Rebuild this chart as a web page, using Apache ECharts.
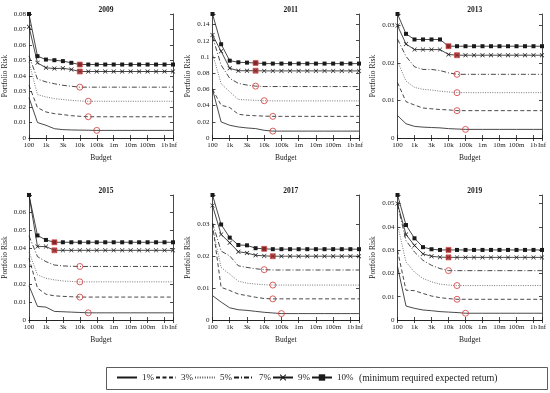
<!DOCTYPE html>
<html><head><meta charset="utf-8">
<script src="https://cdn.jsdelivr.net/npm/echarts@6/dist/echarts.min.js"></script>
<style>html,body{margin:0;padding:0;background:#fff}#c{width:550px;height:393px}</style>
</head><body><div id="c"></div>
<script>
// ---- data ----
const budgets = ['100','500','1k','2k','3k','5k','10k','50k','100k','500k','1m','5m','10m','50m','100m','500m','1b','Inf'];
const tickLabels = ['100','','1k','','3k','','10k','','100k','','1m','','10m','','100m','','1b','Inf'];
const seriesNames = ['1%','3%','5%','7%','9%','10%'];
const years = ['2009','2011','2013','2015','2017','2019'];
const yIntervals = [0.01,0.02,0.01,0.01,0.01,0.01];

const risk2009 = [
  [0.0260,0.0100,0.0082,0.0060,0.0054,0.0052,0.0051,0.0050,0.0049,0.0049,0.0049,0.0049,0.0049,0.0049,0.0049,0.0049,0.0049,0.0049],
  [0.0340,0.0196,0.0168,0.0157,0.0151,0.0144,0.0140,0.0137,0.0137,0.0137,0.0137,0.0137,0.0137,0.0137,0.0137,0.0137,0.0137,0.0137],
  [0.0490,0.0280,0.0265,0.0254,0.0248,0.0243,0.0239,0.0237,0.0237,0.0237,0.0237,0.0237,0.0237,0.0237,0.0237,0.0237,0.0237,0.0237],
  [0.0530,0.0380,0.0362,0.0350,0.0340,0.0334,0.0328,0.0328,0.0328,0.0328,0.0328,0.0328,0.0328,0.0328,0.0328,0.0328,0.0328,0.0328],
  [0.0718,0.0485,0.0453,0.0448,0.0450,0.0442,0.0429,0.0429,0.0429,0.0429,0.0429,0.0429,0.0429,0.0429,0.0429,0.0429,0.0429,0.0429],
  [0.0800,0.0528,0.0506,0.0502,0.0496,0.0485,0.0474,0.0474,0.0474,0.0474,0.0474,0.0474,0.0474,0.0474,0.0474,0.0474,0.0474,0.0474]
];
const risk2011 = [
  [0.0600,0.0198,0.0157,0.0136,0.0124,0.0116,0.0095,0.0085,0.0085,0.0085,0.0085,0.0085,0.0085,0.0085,0.0085,0.0085,0.0085,0.0085],
  [0.0600,0.0405,0.0376,0.0293,0.0280,0.0275,0.0270,0.0267,0.0267,0.0267,0.0267,0.0267,0.0267,0.0267,0.0267,0.0267,0.0267,0.0267],
  [0.1045,0.0670,0.0570,0.0475,0.0470,0.0465,0.0460,0.0458,0.0458,0.0458,0.0458,0.0458,0.0458,0.0458,0.0458,0.0458,0.0458,0.0458],
  [0.1250,0.0900,0.0736,0.0674,0.0653,0.0640,0.0635,0.0635,0.0635,0.0635,0.0635,0.0635,0.0635,0.0635,0.0635,0.0635,0.0635,0.0635],
  [0.1270,0.1070,0.0860,0.0830,0.0830,0.0830,0.0828,0.0828,0.0828,0.0828,0.0828,0.0828,0.0828,0.0828,0.0828,0.0828,0.0828,0.0828],
  [0.1530,0.1157,0.0954,0.0934,0.0930,0.0926,0.0918,0.0918,0.0918,0.0918,0.0918,0.0918,0.0918,0.0918,0.0918,0.0918,0.0918,0.0918]
];
const risk2013 = [
  [0.0060,0.0038,0.0031,0.0029,0.0028,0.0027,0.0025,0.0024,0.0023,0.0023,0.0023,0.0023,0.0023,0.0023,0.0023,0.0023,0.0023,0.0023],
  [0.0148,0.0097,0.0088,0.0080,0.0078,0.0076,0.0075,0.0073,0.0073,0.0073,0.0073,0.0073,0.0073,0.0073,0.0073,0.0073,0.0073,0.0073],
  [0.0205,0.0152,0.0135,0.0130,0.0128,0.0125,0.0123,0.0121,0.0121,0.0121,0.0121,0.0121,0.0121,0.0121,0.0121,0.0121,0.0121,0.0121],
  [0.0264,0.0218,0.0190,0.0183,0.0183,0.0180,0.0174,0.0170,0.0170,0.0170,0.0170,0.0170,0.0170,0.0170,0.0170,0.0170,0.0170,0.0170],
  [0.0300,0.0251,0.0236,0.0236,0.0236,0.0236,0.0223,0.0221,0.0221,0.0221,0.0221,0.0221,0.0221,0.0221,0.0221,0.0221,0.0221,0.0221],
  [0.0331,0.0278,0.0263,0.0263,0.0263,0.0263,0.0245,0.0245,0.0245,0.0245,0.0245,0.0245,0.0245,0.0245,0.0245,0.0245,0.0245,0.0245]
];
const risk2015 = [
  [0.0191,0.0076,0.0072,0.0048,0.0046,0.0044,0.0042,0.0040,0.0040,0.0040,0.0040,0.0040,0.0040,0.0040,0.0040,0.0040,0.0040,0.0040],
  [0.0345,0.0178,0.0144,0.0135,0.0132,0.0130,0.0128,0.0128,0.0128,0.0128,0.0128,0.0128,0.0128,0.0128,0.0128,0.0128,0.0128,0.0128],
  [0.0380,0.0252,0.0233,0.0224,0.0218,0.0215,0.0213,0.0213,0.0213,0.0213,0.0213,0.0213,0.0213,0.0213,0.0213,0.0213,0.0213,0.0213],
  [0.0470,0.0354,0.0326,0.0307,0.0302,0.0300,0.0299,0.0299,0.0299,0.0299,0.0299,0.0299,0.0299,0.0299,0.0299,0.0299,0.0299,0.0299],
  [0.0698,0.0410,0.0410,0.0389,0.0389,0.0389,0.0389,0.0389,0.0389,0.0389,0.0389,0.0389,0.0389,0.0389,0.0389,0.0389,0.0389,0.0389],
  [0.0698,0.0472,0.0447,0.0434,0.0434,0.0434,0.0434,0.0434,0.0434,0.0434,0.0434,0.0434,0.0434,0.0434,0.0434,0.0434,0.0434,0.0434]
];
const risk2017 = [
  [0.0076,0.0056,0.0038,0.0032,0.0030,0.0027,0.0024,0.0022,0.0020,0.0020,0.0020,0.0020,0.0020,0.0020,0.0020,0.0020,0.0020,0.0020],
  [0.0298,0.0102,0.0092,0.0081,0.0076,0.0071,0.0067,0.0066,0.0066,0.0066,0.0066,0.0066,0.0066,0.0066,0.0066,0.0066,0.0066,0.0066],
  [0.0288,0.0164,0.0143,0.0121,0.0115,0.0112,0.0110,0.0109,0.0109,0.0109,0.0109,0.0109,0.0109,0.0109,0.0109,0.0109,0.0109,0.0109],
  [0.0303,0.0215,0.0200,0.0169,0.0164,0.0160,0.0157,0.0156,0.0156,0.0156,0.0156,0.0156,0.0156,0.0156,0.0156,0.0156,0.0156,0.0156],
  [0.0357,0.0267,0.0241,0.0213,0.0209,0.0202,0.0200,0.0199,0.0199,0.0199,0.0199,0.0199,0.0199,0.0199,0.0199,0.0199,0.0199,0.0199],
  [0.0390,0.0298,0.0257,0.0234,0.0233,0.0224,0.0222,0.0221,0.0221,0.0221,0.0221,0.0221,0.0221,0.0221,0.0221,0.0221,0.0221,0.0221]
];
const risk2019 = [
  [0.0230,0.0060,0.0050,0.0043,0.0040,0.0036,0.0034,0.0032,0.0029,0.0029,0.0029,0.0029,0.0029,0.0029,0.0029,0.0029,0.0029,0.0029],
  [0.0299,0.0128,0.0126,0.0114,0.0103,0.0096,0.0092,0.0089,0.0089,0.0089,0.0089,0.0089,0.0089,0.0089,0.0089,0.0089,0.0089,0.0089],
  [0.0410,0.0249,0.0206,0.0178,0.0164,0.0154,0.0150,0.0148,0.0148,0.0148,0.0148,0.0148,0.0148,0.0148,0.0148,0.0148,0.0148,0.0148],
  [0.0497,0.0341,0.0292,0.0256,0.0235,0.0221,0.0212,0.0212,0.0212,0.0212,0.0212,0.0212,0.0212,0.0212,0.0212,0.0212,0.0212,0.0212],
  [0.0500,0.0367,0.0320,0.0284,0.0274,0.0270,0.0269,0.0269,0.0269,0.0269,0.0269,0.0269,0.0269,0.0269,0.0269,0.0269,0.0269,0.0269],
  [0.0537,0.0408,0.0351,0.0313,0.0304,0.0301,0.0301,0.0301,0.0301,0.0301,0.0301,0.0301,0.0301,0.0301,0.0301,0.0301,0.0301,0.0301]
];
// index of the highlighted (red) point for each series: 1%,3%,5%,7%,9%,10%
const hl2009 = [8,7,7,6,6,6];
const hl2011 = [7,7,6,5,5,5];
const hl2013 = [8,7,7,7,7,6];
const hl2015 = [7,6,6,6,3,3];
const hl2017 = [8,7,7,6,7,6];
const hl2019 = [8,7,7,6,6,6];

const allRisk = [risk2009,risk2011,risk2013,risk2015,risk2017,risk2019];
const allHl = [hl2009,hl2011,hl2013,hl2015,hl2017,hl2019];

// ---- layout / style ----
const FONT = '"Liberation Serif","DejaVu Serif",serif';
const INK = '#1a1a1a';
const RED = '#d23a3a';
const colLeft = [29, 212.5, 397.5];
const colWidth = [144, 146.5, 144.5];
const rowTop = [14, 195];
const rowHeight = [124, 125];
const crossPath = 'path://M0,1L1,0L5,4L9,0L10,1L6,5L10,9L9,10L5,6L1,10L0,9L4,5Z';
const lineStyles = [
  {type:'solid', color:INK, symbol:'none'},
  {type:[4,2.5], color:INK, symbol:'none'},
  {type:[1,1.4], color:'#555', symbol:'none'},
  {type:[5,2,1,2], color:INK, symbol:'none'},
  {type:'solid', color:INK, symbol:crossPath, size:4.5},
  {type:'solid', color:INK, symbol:'rect', size:4}
];

const grids=[], xAxes=[], yAxes=[], series=[], titles=[];
const tickFn = (i) => tickLabels[i] !== '';

allRisk.forEach((risk, k) => {
  const c = k % 3, r = Math.floor(k / 3);
  grids.push({left: colLeft[c], top: rowTop[r], width: colWidth[c], height: rowHeight[r], containLabel:false});
  const ymax = Math.max(...risk.flat());
  const iv = yIntervals[k];
  const axisLine = {show:true, lineStyle:{color:INK, width:0.8}};
  xAxes.push({
    type:'category', gridIndex:k, data:budgets, boundaryGap:false, position:'bottom',
    axisLine, axisTick:{inside:true, length:3, interval:tickFn, lineStyle:{color:INK,width:0.8}},
    axisLabel:{interval:0, margin:4, fontSize:7, color:INK, fontFamily:FONT,
      formatter:(v,i)=>tickLabels[i]},
    name:'Budget', nameLocation:'middle', nameGap:16,
    nameTextStyle:{fontSize:7.5, color:INK, fontFamily:FONT},
    splitLine:{show:false}
  });
  xAxes.push({
    type:'category', gridIndex:k, data:budgets, boundaryGap:false, position:'top',
    axisLine, axisTick:{inside:true, length:3, interval:tickFn, lineStyle:{color:INK,width:0.8}},
    axisLabel:{show:false}, splitLine:{show:false}
  });
  const fmt = (v) => Math.abs(v/iv - Math.round(v/iv)) < 1e-6 ? String(+v.toFixed(3)) : '';
  yAxes.push({
    type:'value', gridIndex:k, min:0, max:ymax, interval:iv, position:'left',
    axisLine, axisTick:{show:true, inside:true, length:3, lineStyle:{color:INK,width:0.8}},
    axisLabel:{margin:3, fontSize:7, color:INK, fontFamily:FONT, formatter:fmt, showMaxLabel:true},
    name:'Portfolio Risk', nameLocation:'middle', nameGap:20, nameRotate:90,
    nameTextStyle:{fontSize:7.5, color:INK, fontFamily:FONT},
    splitLine:{show:false}
  });
  yAxes.push({
    type:'value', gridIndex:k, min:0, max:ymax, interval:iv, position:'right',
    axisLine, axisTick:{show:true, inside:true, length:3, lineStyle:{color:INK,width:0.8}},
    axisLabel:{show:false}, splitLine:{show:false}
  });
  titles.push({text:years[k], left: colLeft[c] + colWidth[c]/2, top: rowTop[r] - 13, textAlign:'center',
    textStyle:{fontSize:7.5, fontWeight:'bold', color:INK, fontFamily:FONT}});

  risk.forEach((vals, s) => {
    const st = lineStyles[s];
    series.push({
      name: seriesNames[s], type:'line', xAxisIndex:2*k, yAxisIndex:2*k,
      data: vals, symbol: st.symbol, symbolSize: st.size || 4, showSymbol: st.symbol !== 'none',
      clip:false, silent:true, animation:false,
      itemStyle:{color:INK, borderWidth:0},
      lineStyle:{color:st.color, width:0.8, type:st.type}, z:2
    });
  });
  // highlighted points
  const hl = allHl[k];
  const circleData = [], boxData = [];
  hl.forEach((idx, s) => {
    if (s < 4) circleData.push([idx, risk[s][idx]]);
    else boxData.push([idx, risk[s][idx]]);
  });
  series.push({type:'scatter', xAxisIndex:2*k, yAxisIndex:2*k, data:circleData, symbol:'circle', symbolSize:6,
    itemStyle:{color:'rgba(0,0,0,0)', borderColor:RED, borderWidth:1}, z:5, silent:true, animation:false, clip:false});
  series.push({type:'scatter', xAxisIndex:2*k, yAxisIndex:2*k, data:boxData, symbol:'rect', symbolSize:5,
    itemStyle:{color:'#9c2b2b', borderColor:RED, borderWidth:0.8}, z:5, silent:true, animation:false, clip:false});
});

const legendData = seriesNames.map((n, s) => s < 4 ? {name:n, itemStyle:{opacity:0}} : {name:n});

const chart = echarts.init(document.getElementById('c'), null, {renderer:'canvas'});
chart.setOption({
  backgroundColor:'#fff',
  animation:false,
  title: titles,
  grid: grids, xAxis: xAxes, yAxis: yAxes, series: series,
  legend: {
    data: legendData, left: 116, top: 373, itemWidth: 20, itemHeight: 8, itemGap: 1, padding: 0,
    textStyle:{fontSize:9, color:INK, fontFamily:FONT},
    selectedMode:false
  },
  graphic: [
    {type:'rect', shape:{x:106.5, y:367.5, width:441, height:22}, style:{fill:'none', stroke:'#333', lineWidth:0.8}, silent:true},
    {type:'text', x:359, y:378.5, style:{text:'(minimum required expected return)', font:'9.5px '+FONT, fill:INK, verticalAlign:'middle', textVerticalAlign:'middle'}, silent:true}
  ]
});
</script></body></html>
